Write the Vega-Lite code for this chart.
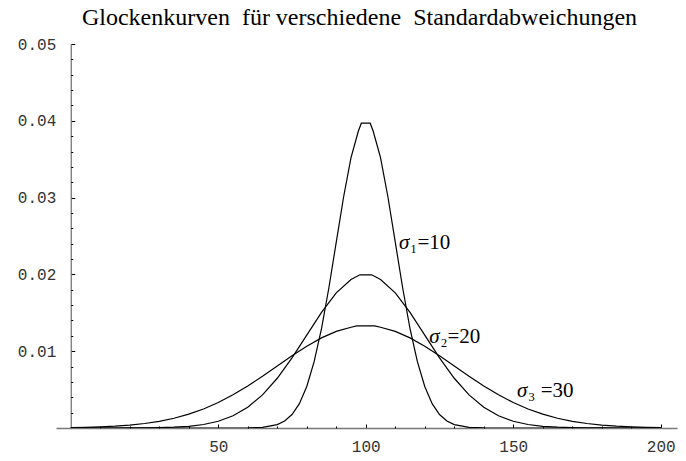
{
  "$schema": "https://vega.github.io/schema/vega-lite/v6.json",
  "autosize": {"type": "none"},
  "width": 621,
  "height": 384,
  "padding": {"left": 56, "top": 44, "right": 9, "bottom": 33},
  "background": "white",
  "config": {"view": {"stroke": null}},
  "title": {
    "text": "Glockenkurven\u00a0 für verschiedene\u00a0 Standardabweichungen",
    "font": "Liberation Serif",
    "fontSize": 24,
    "fontWeight": "normal",
    "color": "black",
    "anchor": "middle",
    "frame": "group",
    "dx": -7,
    "offset": 6
  },
  "datasets": {
    "curves": [
      {"s": 1, "x": 0, "y": 0}, {"s": 1, "x": 50, "y": 0}, {"s": 1, "x": 55, "y": 0.0000016},
      {"s": 1, "x": 60, "y": 0.0000134}, {"s": 1, "x": 65, "y": 0.0000873}, {"s": 1, "x": 70, "y": 0.000443},
      {"s": 1, "x": 72.5, "y": 0.000909}, {"s": 1, "x": 75, "y": 0.00175}, {"s": 1, "x": 77.5, "y": 0.00317},
      {"s": 1, "x": 80, "y": 0.0054}, {"s": 1, "x": 82.5, "y": 0.00863}, {"s": 1, "x": 85, "y": 0.01295},
      {"s": 1, "x": 87.5, "y": 0.01826}, {"s": 1, "x": 90, "y": 0.0242}, {"s": 1, "x": 92.5, "y": 0.03011},
      {"s": 1, "x": 95, "y": 0.03521}, {"s": 1, "x": 97.5, "y": 0.03867}, {"s": 1, "x": 98.5, "y": 0.03969},
      {"s": 1, "x": 101.5, "y": 0.03969},
      {"s": 1, "x": 102.5, "y": 0.03867}, {"s": 1, "x": 105, "y": 0.03521}, {"s": 1, "x": 107.5, "y": 0.03011},
      {"s": 1, "x": 110, "y": 0.0242}, {"s": 1, "x": 112.5, "y": 0.01826}, {"s": 1, "x": 115, "y": 0.01295},
      {"s": 1, "x": 117.5, "y": 0.00863}, {"s": 1, "x": 120, "y": 0.0054}, {"s": 1, "x": 122.5, "y": 0.00317},
      {"s": 1, "x": 125, "y": 0.00175}, {"s": 1, "x": 127.5, "y": 0.000909}, {"s": 1, "x": 130, "y": 0.000443},
      {"s": 1, "x": 135, "y": 0.0000873}, {"s": 1, "x": 140, "y": 0.0000134}, {"s": 1, "x": 145, "y": 0.0000016},
      {"s": 1, "x": 150, "y": 0}, {"s": 1, "x": 200, "y": 0},

      {"s": 2, "x": 0, "y": 0}, {"s": 2, "x": 5, "y": 0}, {"s": 2, "x": 10, "y": 0.0000008},
      {"s": 2, "x": 15, "y": 0.0000024}, {"s": 2, "x": 20, "y": 0.0000067}, {"s": 2, "x": 25, "y": 0.0000176},
      {"s": 2, "x": 30, "y": 0.0000436}, {"s": 2, "x": 35, "y": 0.0001015}, {"s": 2, "x": 40, "y": 0.000222},
      {"s": 2, "x": 45, "y": 0.000455}, {"s": 2, "x": 50, "y": 0.000876}, {"s": 2, "x": 55, "y": 0.001587},
      {"s": 2, "x": 60, "y": 0.0027}, {"s": 2, "x": 65, "y": 0.004314}, {"s": 2, "x": 70, "y": 0.006476},
      {"s": 2, "x": 75, "y": 0.009132}, {"s": 2, "x": 80, "y": 0.012099}, {"s": 2, "x": 85, "y": 0.015057},
      {"s": 2, "x": 90, "y": 0.017603}, {"s": 2, "x": 95, "y": 0.019333}, {"s": 2, "x": 98, "y": 0.01995},
      {"s": 2, "x": 102, "y": 0.01995},
      {"s": 2, "x": 105, "y": 0.019333}, {"s": 2, "x": 110, "y": 0.017603}, {"s": 2, "x": 115, "y": 0.015057},
      {"s": 2, "x": 120, "y": 0.012099}, {"s": 2, "x": 125, "y": 0.009132}, {"s": 2, "x": 130, "y": 0.006476},
      {"s": 2, "x": 135, "y": 0.004314}, {"s": 2, "x": 140, "y": 0.0027}, {"s": 2, "x": 145, "y": 0.001587},
      {"s": 2, "x": 150, "y": 0.000876}, {"s": 2, "x": 155, "y": 0.000455}, {"s": 2, "x": 160, "y": 0.000222},
      {"s": 2, "x": 165, "y": 0.0001015}, {"s": 2, "x": 170, "y": 0.0000436}, {"s": 2, "x": 175, "y": 0.0000176},
      {"s": 2, "x": 180, "y": 0.0000067}, {"s": 2, "x": 185, "y": 0.0000024}, {"s": 2, "x": 190, "y": 0.0000008},
      {"s": 2, "x": 195, "y": 0}, {"s": 2, "x": 200, "y": 0},

      {"s": 3, "x": 0, "y": 0.0000514}, {"s": 3, "x": 5, "y": 0.0000884}, {"s": 3, "x": 10, "y": 0.000148},
      {"s": 3, "x": 15, "y": 0.00024}, {"s": 3, "x": 20, "y": 0.00038}, {"s": 3, "x": 25, "y": 0.000584},
      {"s": 3, "x": 30, "y": 0.000874}, {"s": 3, "x": 35, "y": 0.001272}, {"s": 3, "x": 40, "y": 0.0018},
      {"s": 3, "x": 45, "y": 0.002477}, {"s": 3, "x": 50, "y": 0.003316}, {"s": 3, "x": 55, "y": 0.004317},
      {"s": 3, "x": 60, "y": 0.005467}, {"s": 3, "x": 65, "y": 0.006733}, {"s": 3, "x": 70, "y": 0.008066},
      {"s": 3, "x": 75, "y": 0.009397}, {"s": 3, "x": 80, "y": 0.010648}, {"s": 3, "x": 85, "y": 0.011736},
      {"s": 3, "x": 90, "y": 0.012579}, {"s": 3, "x": 95, "y": 0.013115}, {"s": 3, "x": 97, "y": 0.0133},
      {"s": 3, "x": 103, "y": 0.0133},
      {"s": 3, "x": 105, "y": 0.013115}, {"s": 3, "x": 110, "y": 0.012579}, {"s": 3, "x": 115, "y": 0.011736},
      {"s": 3, "x": 120, "y": 0.010648}, {"s": 3, "x": 125, "y": 0.009397}, {"s": 3, "x": 130, "y": 0.008066},
      {"s": 3, "x": 135, "y": 0.006733}, {"s": 3, "x": 140, "y": 0.005467}, {"s": 3, "x": 145, "y": 0.004317},
      {"s": 3, "x": 150, "y": 0.003316}, {"s": 3, "x": 155, "y": 0.002477}, {"s": 3, "x": 160, "y": 0.0018},
      {"s": 3, "x": 165, "y": 0.001272}, {"s": 3, "x": 170, "y": 0.000874}, {"s": 3, "x": 175, "y": 0.000584},
      {"s": 3, "x": 180, "y": 0.00038}, {"s": 3, "x": 185, "y": 0.00024}, {"s": 3, "x": 190, "y": 0.000148},
      {"s": 3, "x": 195, "y": 0.0000884}, {"s": 3, "x": 200, "y": 0.0000514}
    ],
    "labels": [
      {"s": 1, "x": 111.3, "y": 0.02331, "rest": "₁=10"},
      {"s": 2, "x": 121.5, "y": 0.01111, "rest": "₂=20"},
      {"s": 3, "x": 151.3, "y": 0.00408, "rest": "₃ =30"}
    ]
  },
  "resolve": {"axis": {"x": "independent", "y": "independent"}},
  "layer": [
    {
      "data": {"name": "curves"},
      "mark": {"type": "line", "color": "black", "strokeWidth": 1.2, "clip": true},
      "encoding": {
        "x": {
          "field": "x", "type": "quantitative",
          "scale": {"domain": [-5, 205.5], "nice": false, "zero": false},
          "axis": {
            "orient": "bottom", "title": null, "grid": false,
            "values": [50, 100, 150, 200],
            "tickSize": -4, "tickColor": "black", "tickWidth": 1,
            "domainColor": "#777", "domainWidth": 1.3,
            "labelFont": "Liberation Mono", "labelFontSize": 16, "labelColor": "#333",
            "labelPadding": 14, "labelBaseline": "top"
          }
        },
        "y": {
          "field": "y", "type": "quantitative",
          "scale": {"domain": [0, 0.05], "nice": false},
          "axis": {
            "orient": "left", "title": null, "grid": false,
            "values": [0.01, 0.02, 0.03, 0.04, 0.05],
            "format": ".2f",
            "offset": -14.75,
            "tickSize": -4, "tickColor": "black", "tickWidth": 1,
            "domainColor": "#777", "domainWidth": 1.3,
            "labelFont": "Liberation Mono", "labelFontSize": 16, "labelColor": "#333",
            "labelPadding": 19
          }
        },
        "detail": {"field": "s"}
      }
    },
    {
      "data": {"name": "labels"},
      "mark": {"type": "text", "font": "Liberation Serif", "fontSize": 21, "fontStyle": "italic", "align": "left", "baseline": "alphabetic", "color": "black", "text": "σ"},
      "encoding": {
        "x": {
          "field": "x", "type": "quantitative",
          "axis": {
            "orient": "bottom", "title": null, "grid": false, "domain": false, "labels": false,
            "values": [10, 20, 30, 40, 60, 70, 80, 90, 110, 120, 130, 140, 160, 170, 180, 190],
            "tickSize": -2, "tickColor": "black", "tickWidth": 1
          }
        },
        "y": {
          "field": "y", "type": "quantitative",
          "axis": {
            "orient": "left", "title": null, "grid": false, "domain": false, "labels": false,
            "offset": -14.75,
            "values": [0.002, 0.004, 0.006, 0.008, 0.012, 0.014, 0.016, 0.018, 0.022, 0.024, 0.026, 0.028, 0.032, 0.034, 0.036, 0.038, 0.042, 0.044, 0.046, 0.048],
            "tickSize": -2, "tickColor": "black", "tickWidth": 1
          }
        }
      }
    },
    {
      "data": {"name": "labels"},
      "mark": {"type": "text", "font": "Liberation Serif", "fontSize": 21, "align": "left", "baseline": "alphabetic", "color": "black", "dx": 11},
      "encoding": {
        "x": {"field": "x", "type": "quantitative", "axis": null},
        "y": {"field": "y", "type": "quantitative", "axis": null},
        "text": {"field": "rest"}
      }
    }
  ]
}
